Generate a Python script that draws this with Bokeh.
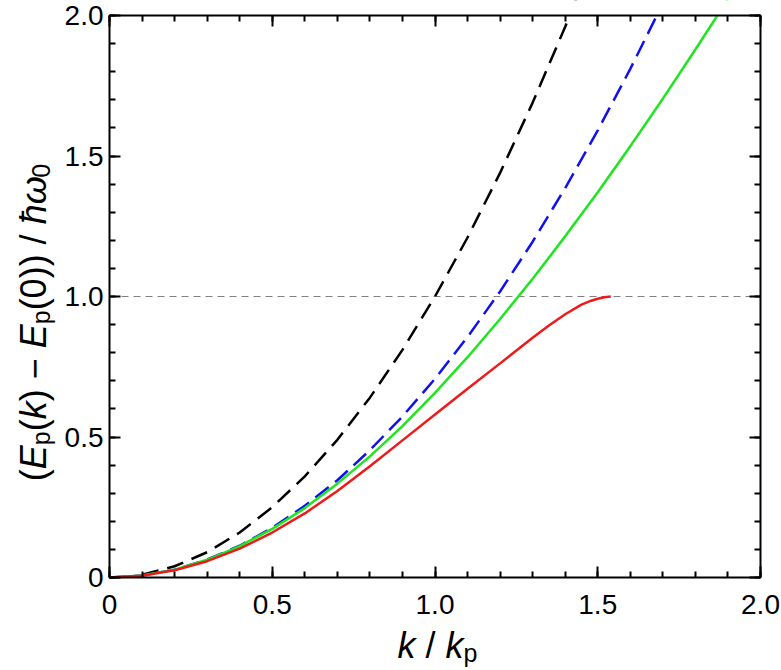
from bokeh.plotting import figure
from bokeh.models import (ColumnDataSource, LinearAxis, FixedTicker, Range1d, Label, BoxAnnotation)
from bokeh.embed import file_html
from bokeh.resources import INLINE
import math

# ---------------- data ----------------
k_black = [0.1, 0.2, 0.3, 0.4, 0.5, 0.6, 0.7, 0.8, 0.9, 1.0, 1.1, 1.2, 1.3, 1.4, 1.5]
E_black = [0.01, 0.04, 0.09, 0.16, 0.25, 0.36, 0.49, 0.64, 0.81, 1.00, 1.21, 1.44, 1.69, 1.96, 2.25]

k_blue = [0.0, 0.1, 0.2, 0.3, 0.4, 0.5, 0.6, 0.7, 0.8, 0.9, 1.0, 1.1, 1.2, 1.3, 1.4, 1.5, 1.6, 1.7]
E_blue = [0.0, 0.007, 0.028, 0.064, 0.113, 0.177, 0.255, 0.346, 0.453, 0.573, 0.707, 0.856,
          1.018, 1.195, 1.386, 1.591, 1.810, 2.043]

k_green = [0.0, 0.1, 0.2, 0.3, 0.4, 0.5, 0.6, 0.7, 0.8, 0.9, 1.0, 1.1, 1.2, 1.3, 1.4, 1.5,
           1.6, 1.7, 1.8, 1.9]
E_green = [0.0, 0.007, 0.028, 0.063, 0.112, 0.173, 0.247, 0.334, 0.431, 0.539, 0.657, 0.784,
           0.920, 1.063, 1.214, 1.371, 1.535, 1.704, 1.879, 2.058]

k_red = [0.0, 0.1, 0.2, 0.3, 0.4, 0.5, 0.6, 0.7, 0.8, 0.9, 1.0, 1.1, 1.2, 1.3, 1.35, 1.4,
         1.45, 1.48, 1.5, 1.52, 1.54]
E_red = [0.0, 0.006, 0.026, 0.058, 0.103, 0.160, 0.228, 0.308, 0.396, 0.488, 0.580, 0.672,
         0.762, 0.853, 0.897, 0.937, 0.971, 0.985, 0.992, 0.997, 1.0]

threshold = 1.0

major_ticks = [0, 0.5, 1.0, 1.5, 2.0]
minor_ticks = [i / 10 for i in range(21)]
tick_labels = {0: "0", 0.5: "0.5", 1: "1.0", 1.5: "1.5", 2: "2.0"}
no_labels = {0: "", 0.5: "", 1: "", 1.5: "", 2: ""}

# ---------------- layout ----------------
W, H = 781, 670
# plot box in canvas pixels
BX0, BX1, BY0, BY1 = 109, 760, 15, 577
lo, hi = major_ticks[0], major_ticks[-1]
sx = (BX1 - BX0) / (hi - lo)
sy = (BY1 - BY0) / (hi - lo)
x_range = Range1d(lo - BX0 / sx, hi + (W - BX1) / sx)
y_range = Range1d(lo - (H - BY1) / sy, hi + BY0 / sy)

p = figure(width=W, height=H, output_backend="svg", toolbar_location=None,
           x_range=x_range, y_range=y_range,
           min_border_left=0, min_border_right=0, min_border_top=0, min_border_bottom=0,
           x_axis_type=None, y_axis_type=None)
p.grid.visible = False
p.outline_line_color = None
p.background_fill_color = "white"
p.border_fill_color = "white"

FONT = "Liberation Sans"
ticker = FixedTicker(ticks=major_ticks, minor_ticks=minor_ticks)

def make_axis(loc, show_labels):
    ax = LinearAxis(ticker=ticker, fixed_location=loc, bounds=(lo, hi))
    ax.axis_line_color = "black"
    ax.axis_line_width = 2
    ax.major_tick_in = 11
    ax.major_tick_out = 0
    ax.minor_tick_in = 6
    ax.minor_tick_out = 0
    ax.major_tick_line_width = 2
    ax.minor_tick_line_width = 2
    if show_labels:
        ax.major_label_overrides = tick_labels
        ax.major_label_text_font = FONT
        ax.major_label_text_font_size = "28px"
        ax.major_label_text_color = "black"
    else:
        ax.major_label_overrides = no_labels
        ax.major_label_text_font_size = "1px"
        ax.major_label_standoff = 0
    return ax

src_black = ColumnDataSource(dict(k=k_black, E=E_black))
src_blue = ColumnDataSource(dict(k=k_blue, E=E_blue))
src_green = ColumnDataSource(dict(k=k_green, E=E_green))
src_red = ColumnDataSource(dict(k=k_red, E=E_red))

# threshold line across the plot box
p.segment(x0=[lo], x1=[hi], y0=[threshold], y1=[threshold], line_color="#808080",
          line_width=1, line_dash="7 5")

p.line("k", "E", source=src_black, line_color="black", line_width=2.5, line_dash="17 9")
p.line("k", "E", source=src_blue, line_color="#1010f0", line_width=2.5, line_dash="17 8")
p.line("k", "E", source=src_green, line_color="#1ee61e", line_width=2.5)
p.line("k", "E", source=src_red, line_color="#ee1a1a", line_width=2.5)

# white mask above the plot box (hides curve parts beyond the upper limit)
p.add_layout(BoxAnnotation(bottom=hi, top=y_range.end + 1, left=lo - 0.01, right=hi + 0.05,
                           fill_color="white", fill_alpha=1.0,
                           line_color="white", line_width=4, level="glyph"))

xb = make_axis(lo, True); xb.major_label_standoff = 17
yl = make_axis(lo, True); yl.major_label_standoff = 6
p.add_layout(xb, "below")
p.add_layout(yl, "left")
p.add_layout(make_axis(hi, False), "above")
p.add_layout(make_axis(hi, False), "right")

# ---------------- axis titles built from text pieces ----------------
F = 36
FS = 25
SUB = 7
x_pieces = [("k", "italic", False, 0.500), (None, "", False, 0.278),
            ("/", "normal", False, 0.278), (None, "", False, 0.278),
            ("k", "italic", False, 0.500), ("p", "normal", True, 0.556)]
y_pieces = [("(", "normal", False, 0.333), ("E", "italic", False, 0.667),
            ("p", "normal", True, 0.556), ("(", "normal", False, 0.333),
            ("k", "italic", False, 0.500), (")", "normal", False, 0.333),
            (None, "", False, 0.278), ("\u2212", "normal", False, 0.584),
            (None, "", False, 0.278), ("E", "italic", False, 0.667),
            ("p", "normal", True, 0.556), ("(0))", "normal", False, 1.555),
            (None, "", False, 0.278), ("/", "normal", False, 0.278),
            (None, "", False, 0.278), ("\u0127", "italic", False, 0.556),
            ("\u03c9", "italic", False, 0.740), ("0", "normal", True, 0.556)]

def adv(piece):
    t, st, sub, w = piece
    return w * (FS if sub else F)

# screen units: from the frame's bottom-left corner (frame = whole canvas here)
cx, base = 437, 645
pos = cx - sum(adv(pc) for pc in x_pieces) / 2
for pc in x_pieces:
    t, st, sub, w = pc
    if t is not None:
        yb = base + (SUB if sub else 0)
        p.add_layout(Label(x=pos, y=H - yb, x_units="screen", y_units="screen",
                           text=t, text_font=FONT, text_font_style=st,
                           text_font_size=f"{FS if sub else F}px", text_color="black",
                           text_align="left", text_baseline="alphabetic"))
    pos += adv(pc)

cy, xbase = 322, 33
pos = cy + sum(adv(pc) for pc in y_pieces) / 2
for pc in y_pieces:
    t, st, sub, w = pc
    if t is not None:
        xb_ = xbase + (SUB if sub else 0)
        p.add_layout(Label(x=xb_, y=H - pos, x_units="screen", y_units="screen",
                           text=t, text_font=FONT, text_font_style=st,
                           text_font_size=f"{FS if sub else F}px", text_color="black",
                           angle=math.pi / 2, text_align="left", text_baseline="alphabetic"))
    pos -= adv(pc)

open("out.html", "w").write(file_html(p, INLINE))
